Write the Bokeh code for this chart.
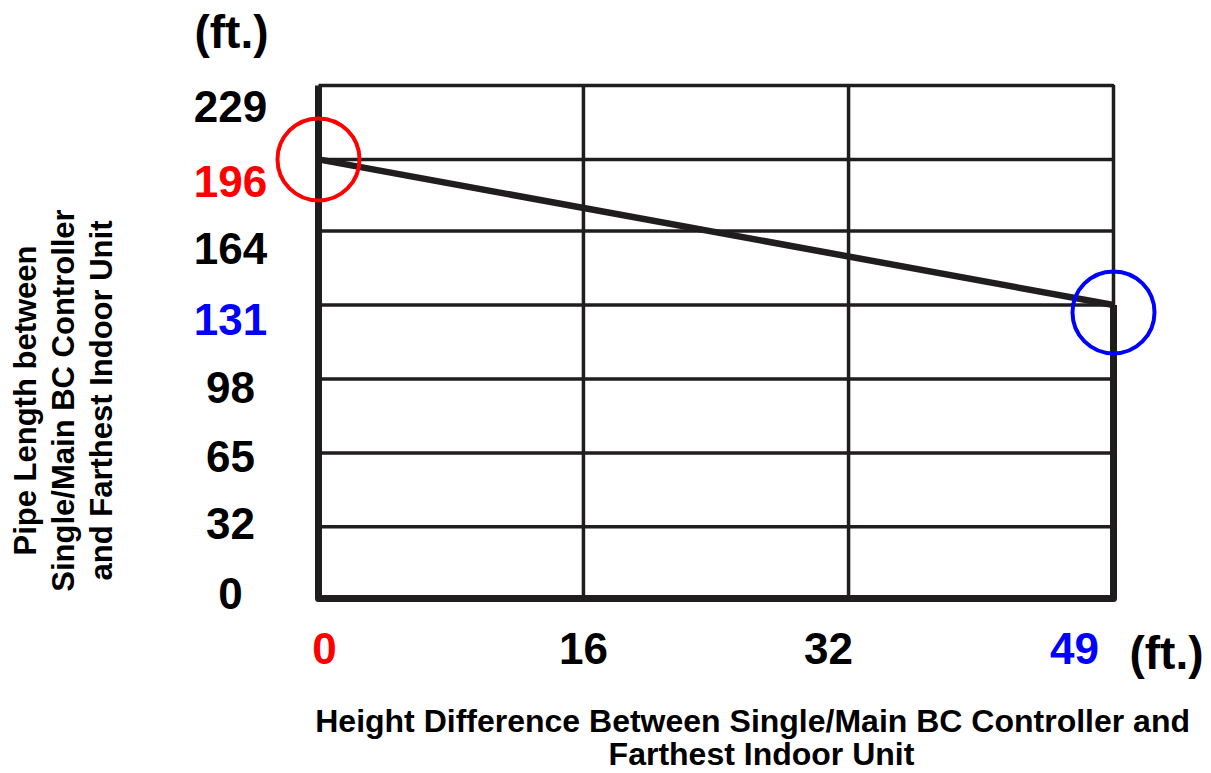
import math
from bokeh.plotting import figure
from bokeh.models import Label, Range1d
from bokeh.embed import file_html
from bokeh.resources import INLINE

# ---------------- data ----------------
height_diff_ft = [0, 49]          # x of the limit line
pipe_length_ft = [196, 131]       # y of the limit line

x_ticks = [0, 16.33, 32.67, 49]   # grid line positions (ft)
x_tick_labels = ["0", "16", "32", "49"]
x_tick_colors = ["#ff0000", "#000000", "#000000", "#0000ff"]

y_ticks = [0, 32, 65, 98, 131, 164, 196, 229]
y_tick_labels = ["0", "32", "65", "98", "131", "164", "196", "229"]
y_tick_colors = ["#000000", "#000000", "#000000", "#000000",
                 "#0000ff", "#000000", "#ff0000", "#000000"]

circle_x = [0, 49]
circle_y = [196, 127.7]
circle_colors = ["#ff0000", "#0000ff"]

y_title_lines = ["Pipe Length between", "Single/Main BC Controller", "and Farthest Indoor Unit"]
x_title_lines = ["Height Difference  Between Single/Main  BC Controller and", "Farthest Indoor Unit"]
unit_text = "(ft.)"

# ---------------- layout (page pixels) ----------------
W, H = 1208, 772
PLOT_L, PLOT_R, PLOT_T, PLOT_B = 318, 1113, 85, 598

x_min, x_max = x_ticks[0], x_ticks[-1]
y_min, y_max = y_ticks[0], y_ticks[-1]
xs = (PLOT_R - PLOT_L) / (x_max - x_min)
ys = (PLOT_B - PLOT_T) / (y_max - y_min)

# frame covers the whole canvas so that text outside the grid is not clipped
x_range = Range1d(x_min - PLOT_L / xs, x_max + (W - PLOT_R) / xs)
y_range = Range1d(y_min - (H - PLOT_B) / ys, y_max + PLOT_T / ys)

p = figure(width=W, height=H, x_range=x_range, y_range=y_range,
           x_axis_type=None, y_axis_type=None, title=None,
           toolbar_location=None, output_backend="svg",
           min_border_left=0, min_border_right=0,
           min_border_top=0, min_border_bottom=0,
           outline_line_color=None, background_fill_color="white",
           border_fill_color="white")

INK = "#1f1d1e"
THIN = 3.5
THICK = 7

# grid lines (thin)
inner_y = y_ticks[1:-1]
p.segment(x0=[x_min] * len(inner_y), y0=inner_y, x1=[x_max] * len(inner_y), y1=inner_y,
          line_color=INK, line_width=THIN)
inner_x = x_ticks[1:-1]
p.segment(x0=inner_x, y0=[y_min] * len(inner_x), x1=inner_x, y1=[y_max] * len(inner_x),
          line_color=INK, line_width=THIN)
# top border and upper right border (thin)
p.line(x=[x_min, x_max, x_max], y=[y_max, y_max, pipe_length_ft[-1]],
       line_color=INK, line_width=THIN)
# thick outline: left, bottom, lower right
p.line(x=[x_min, x_min, x_max, x_max], y=[y_max, y_min, y_min, pipe_length_ft[-1]],
       line_color=INK, line_width=THICK, line_join="round")
# limit line
p.line(x=height_diff_ft, y=pipe_length_ft, line_color=INK, line_width=6.5)

# highlight circles
p.scatter(x=circle_x, y=circle_y, marker="circle", size=82, fill_color=None,
          line_color=circle_colors, line_width=4)

FONT = "Liberation Sans"

# y tick labels
y_label_dy = [-5, -3, 4, 9, 14, 17, 22, 21]   # px downward from gridline
for v, t, c, dy in zip(y_ticks, y_tick_labels, y_tick_colors, y_label_dy):
    p.add_layout(Label(x=x_min, y=v, x_offset=230 - PLOT_L, y_offset=-dy, text=t,
                       text_color=c, text_font=FONT, text_font_style="bold",
                       text_font_size="44px", text_align="center",
                       text_baseline="middle"))

# x tick labels
x_label_dx = [6, 0, -20, -39]
for v, t, c, dx in zip(x_ticks, x_tick_labels, x_tick_colors, x_label_dx):
    p.add_layout(Label(x=v, y=y_min, x_offset=dx, y_offset=-50, text=t,
                       text_color=c, text_font=FONT, text_font_style="bold",
                       text_font_size="44px", text_align="center",
                       text_baseline="middle"))

# unit labels
p.add_layout(Label(x=x_min, y=y_max, x_offset=231 - PLOT_L, y_offset=PLOT_T - 31,
                   text=unit_text, text_color="black", text_font=FONT,
                   text_font_style="bold", text_font_size="46px",
                   text_align="center", text_baseline="middle"))
p.add_layout(Label(x=x_max, y=y_min, x_offset=1166 - PLOT_R, y_offset=-(652 - PLOT_B),
                   text=unit_text, text_color="black", text_font=FONT,
                   text_font_style="bold", text_font_size="46px",
                   text_align="center", text_baseline="middle"))

# y axis title (rotated, three lines)
for line, cx in zip(y_title_lines, [25, 63, 101]):
    p.add_layout(Label(x=x_min, y=y_min, x_offset=cx - PLOT_L, y_offset=PLOT_B - 400,
                       text=line, angle=math.pi / 2, text_color="black",
                       text_font=FONT, text_font_style="bold", text_font_size="31px",
                       text_align="center", text_baseline="middle"))

# x axis title (two lines)
for line, cy in zip(x_title_lines, [720, 753]):
    p.add_layout(Label(x=x_min, y=y_min, x_offset=761 - PLOT_L, y_offset=-(cy - PLOT_B),
                       text=line, text_color="black", text_font=FONT,
                       text_font_style="bold", text_font_size="32px",
                       text_align="center", text_baseline="middle"))

open("out.html", "w").write(file_html(p, INLINE))
